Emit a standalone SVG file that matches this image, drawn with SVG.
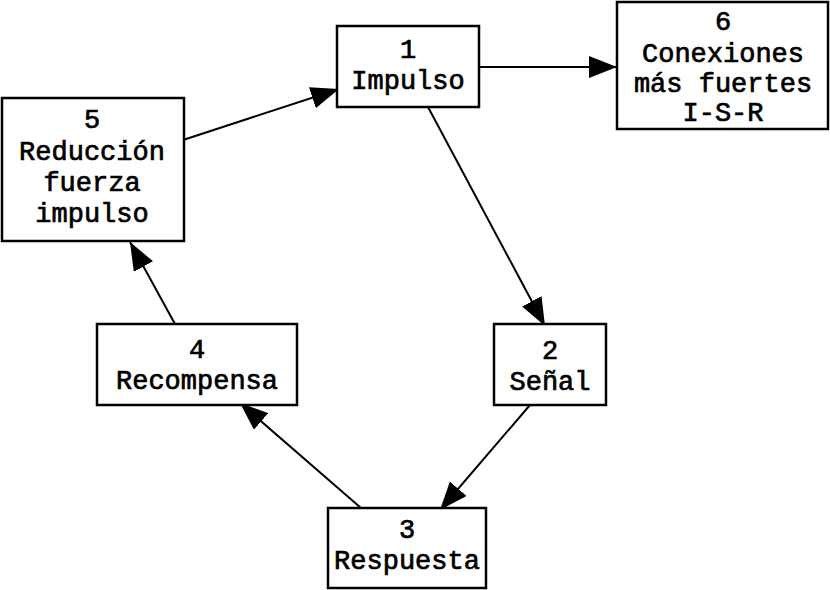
<svg xmlns="http://www.w3.org/2000/svg" width="830" height="590" viewBox="0 0 830 590">
<defs>
<style>
.box{fill:#fff;stroke:#000;stroke-width:2.5}
.lbl{font-family:"Liberation Mono","DejaVu Sans Mono",monospace;font-size:27px;fill:#000;stroke:#000;stroke-width:0.7;text-anchor:middle}
.edge{stroke:#000;stroke-width:2;fill:none;marker-end:url(#ah)}
</style>
<marker id="ah" viewBox="0 0 28 22" refX="28" refY="11" markerWidth="28" markerHeight="22" markerUnits="userSpaceOnUse" orient="auto">
<path d="M0,0 L28,11 L0,22 z" fill="#000"/>
</marker>
</defs>
<rect width="830" height="590" fill="#fff"/>
<g id="connectors">
<line class="edge" x1="479" y1="67" x2="617" y2="67"/>
<line class="edge" x1="183" y1="140" x2="339" y2="89"/>
<line class="edge" x1="428" y1="107" x2="545" y2="326"/>
<line class="edge" x1="530" y1="405" x2="440" y2="510"/>
<line class="edge" x1="361" y1="508" x2="240" y2="403"/>
<line class="edge" x1="175" y1="324" x2="130" y2="242"/>
</g>
<g id="n1">
<rect class="box" x="337" y="26" width="142" height="81"/>
<text class="lbl" x="408" y="58">1</text>
<text class="lbl" x="408" y="89">Impulso</text>
</g>
<g id="n2">
<rect class="box" x="494" y="324" width="112" height="81"/>
<text class="lbl" x="550" y="359">2</text>
<text class="lbl" x="550" y="390">Señal</text>
</g>
<g id="n3">
<rect class="box" x="328" y="508" width="158" height="80"/>
<text class="lbl" x="407" y="538">3</text>
<text class="lbl" x="407" y="569">Respuesta</text>
</g>
<g id="n4">
<rect class="box" x="97" y="324" width="200" height="81"/>
<text class="lbl" x="197" y="358">4</text>
<text class="lbl" x="197" y="389">Recompensa</text>
</g>
<g id="n5">
<rect class="box" x="2" y="98" width="182" height="143"/>
<text class="lbl" x="92" y="128">5</text>
<text class="lbl" x="92" y="160">Reducción</text>
<text class="lbl" x="92" y="191">fuerza</text>
<text class="lbl" x="92" y="222">impulso</text>
</g>
<g id="n6">
<rect class="box" x="617" y="2" width="211" height="127"/>
<text class="lbl" x="723" y="30">6</text>
<text class="lbl" x="723" y="62">Conexiones</text>
<text class="lbl" x="723" y="92">más fuertes</text>
<text class="lbl" x="723" y="121">I-S-R</text>
</g>
</svg>
